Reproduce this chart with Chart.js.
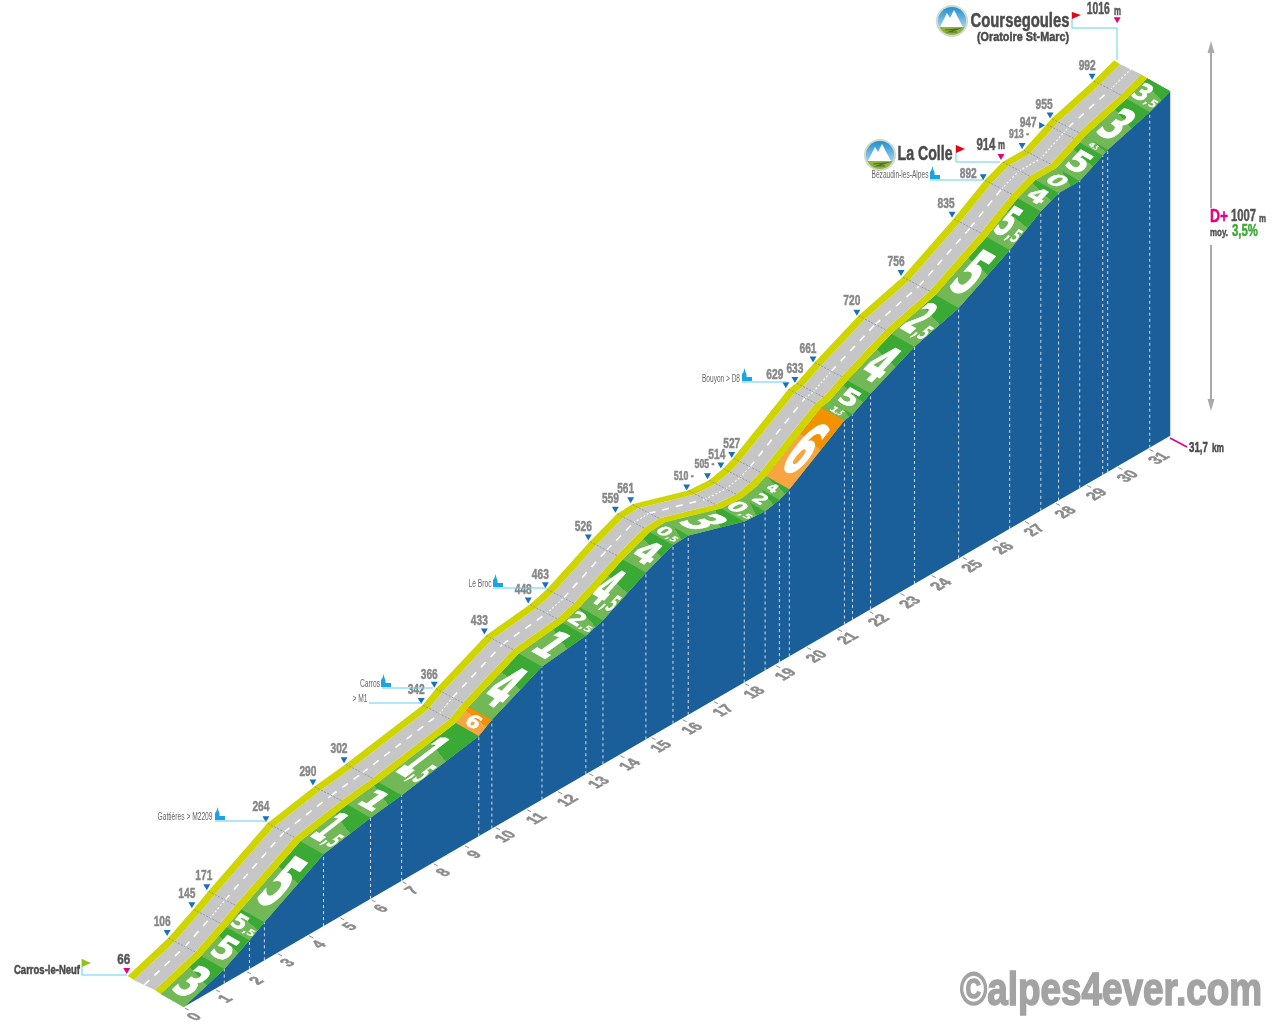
<!DOCTYPE html>
<html>
<head>
<meta charset="utf-8">
<title>Coursegoules</title>
<script src="https://cdn.jsdelivr.net/npm/chart.js@4/dist/chart.umd.js"></script>
<style>
html,body{margin:0;padding:0;background:#fff;}
canvas{display:block;}
</style>
</head>
<body>
<canvas id="profile" width="1280" height="1024"></canvas>
<script>
// values
const kmPoints = [0,1.3,2.11,2.59,4.49,6,7,9.48,9.9,11.51,12.92,13.47,14.85,15.72,16.21,18.01,18.68,19.14,19.46,21.23,21.49,22.07,23.48,24.9,26.54,27.54,28.11,28.79,29.53,29.69,31.04,31.7];
const altitudes = [66,106,145,171,264,290,302,342,366,433,448,463,526,559,561,510,505,514,527,629,633,661,720,756,835,892,914,913,947,955,992,1016];
const gradients = ["3","5","5,5","5","1,5","1","1,5","6","4","1","2,5","4,5","4","0,5","3","0,5","2","4","6","1,5","5","4","2,5","5","5,5","4","0","5","4,5","3","3,5"];
const kmTicks = [0,1,2,3,4,5,6,7,8,9,10,11,12,13,14,15,16,17,18,19,20,21,22,23,24,25,26,27,28,29,30,31];
const peakIndexes = [0,26,31];
const smallLabels = [15,16,27];

// projection of the oblique view
const pxKm = 31.07;
const pxM = 0.362;
const shear = 49.67;
const originX = 184.5;
const originY = 1006;
const baseAlt = 66;
// Chart.js insets the plot area by the size of the markers
const inset = 5;

// depth of the road, in pixels from the lower edge of the gradient band
const bandEdge = {dx:-23,dy:-13};
const yellowEdge = {dx:-29,dy:-17};
const grayEdge = {dx:-50,dy:-27};
const topEdge = {dx:-56,dy:-31};
const midRoad = {dx:-39.5,dy:-22};
const front = {dx:0,dy:0};

const labelDx = [-4,-6,-6.5,-4.5,-6.5,-6.5,-6.5,-6.5,-6.5,-6.5,-6.5,-6.5,-6.5,-6.5,-6.5,-4.5,-4.5,-6.5,-1.5,-13.5,-1.5,-6.5,-6.5,-6.5,-7.5,-16.5,-16.5,-4.5,-18.5,-7.5,-6.5,-16];
const labelDy = [-16,-16,-15,-15,-16,-15,-15,-15,-14,-15,-15,-14,-15,-15,-15,-14,-15,-14,-14,-14,-14,-14,-15,-15,-15,-6,-17,-15,-1,-14,-15,-51];
const markerDy = [-6,-6,-5,-5,-5,-5,-5,-5,-5,-5,-5,-5,-5,-5,-5,-4,-5,-4,-4,-5,-4,-4,-4,-5,-5,-4,-6,-5,1,-4,-5,-41];
const markerDx = [-1,-1,-1.5,-1.5,-1.5,-1.5,-1.5,-1.5,-1.5,-1.5,-1.5,-1.5,-1.5,-1.5,-1.5,-1.5,-1.5,-2.5,-1.5,-2.5,-1.5,-1.5,-1.5,-1.5,-1.5,-1.5,-1.5,-1.5,-5.5,-1.5,-1.5,3];

function xv(km,edge){ return km + edge.dx/pxKm; }
function yv(km,alt,edge){ return alt + shear*km - edge.dy/pxM; }
function pt(i,edge){ return {x:xv(kmPoints[i],edge),y:yv(kmPoints[i],altitudes[i],edge)}; }

function strip(edgeA,edgeB){
    const pts = [];
    for(let i=0;i<kmPoints.length;i++){ pts.push(pt(i,edgeA)); }
    for(let i=kmPoints.length-1;i>=0;i--){ pts.push(pt(i,edgeB)); }
    return pts;
}

function shape(points,color){
    return {data:points,showLine:true,fill:"shape",backgroundColor:color,borderColor:"transparent",borderWidth:0,pointRadius:0,tension:0};
}

function stroke(points,color,width,dash){
    return {data:points,showLine:true,fill:false,borderColor:color,borderWidth:width,borderDash:dash||[],pointRadius:0,tension:0};
}

function bandColor(i,light,dark){
    return function(ctx){
        const sx = ctx.chart.scales.x, sy = ctx.chart.scales.y;
        const a = pt(i,front), b = pt(i+1,front);
        const x0 = sx.getPixelForValue(a.x), y0 = sy.getPixelForValue(a.y);
        const x1 = sx.getPixelForValue(b.x), y1 = sy.getPixelForValue(b.y);
        // scales have no pixels yet on the first pass
        if(!isFinite(x0+y0+x1+y1)){ return dark; }
        const g = ctx.chart.ctx.createLinearGradient(x0,y0,x1,y1);
        g.addColorStop(0,light);
        g.addColorStop(0.57,light);
        g.addColorStop(0.57,dark);
        g.addColorStop(1,dark);
        return g;
    };
}

const layers = [];

// blue face
const face = [];
for(let i=0;i<kmPoints.length;i++){ face.push(pt(i,front)); }
face.push({x:kmPoints[kmPoints.length-1],y:baseAlt+shear*kmPoints[kmPoints.length-1]});
face.push({x:0,y:baseAlt});
layers.push(shape(face,"#1a5e9a"));

// dashed verticals
for(let i=1;i<kmPoints.length-1;i++){
    layers.push(stroke([{x:kmPoints[i],y:baseAlt+shear*kmPoints[i]},pt(i,front)],"#d5dde8",1,[3,3]));
}

// gradient bands
layers.push(shape(strip(front,bandEdge),"#3aaa35"));
for(let i=0;i<gradients.length;i++){
    const hot = gradients[i]==="6";
    const light = hot ? "#f7a541" : "#72b857";
    const dark = hot ? "#f39200" : "#3aaa35";
    layers.push(shape([pt(i,front),pt(i+1,front),pt(i+1,bandEdge),pt(i,bandEdge)],bandColor(i,light,dark)));
}

// road
layers.push(shape(strip(bandEdge,yellowEdge),"#d0d500"));
layers.push(shape(strip(yellowEdge,grayEdge),"#c6c6c6"));
layers.push(shape(strip(grayEdge,topEdge),"#d0d500"));

for(let i=0;i<gradients.length;i++){
    const short = kmPoints[i+1]-kmPoints[i] < 0.75;
    layers.push(stroke([pt(i,midRoad),pt(i+1,midRoad)],"#ffffff",short?1.2:1.6,short?[2,2]:[7,7]));
}
for(let i=1;i<kmPoints.length-1;i++){
    layers.push(stroke([pt(i,yellowEdge),pt(i,topEdge)],"#7f88ad",0.8,[2,1.5]));
}

// altitude markers
const markerData = [];
for(let i=0;i<kmPoints.length;i++){
    const p = pt(i,topEdge);
    markerData.push({x:p.x+markerDx[i]/pxKm,y:p.y-markerDy[i]/pxM});
}
layers.push({
    data:markerData,showLine:false,pointStyle:"triangle",pointRadius:4,borderWidth:0,
    rotation:altitudes.map((a,i)=> i===28 ? 90 : 180),
    backgroundColor:altitudes.map((a,i)=> peakIndexes.includes(i) ? "#e6007e" : "#1b70b8"),
    borderColor:"transparent"
});

const NARROW = '"Liberation Sans Narrow","Liberation Sans",sans-serif';

function label(c,text,cx,cy,size,color,width,weight,heavy){
    c.save();
    c.font = (weight||"bold")+" "+size+"px "+NARROW;
    c.fillStyle = color;
    c.textAlign = "center";
    c.textBaseline = "middle";
    c.translate(cx,cy);
    if(width){ c.scale(width/c.measureText(text).width,1); }
    c.fillText(text,0,0);
    if(!weight){
        c.strokeStyle = color;
        c.lineWidth = heavy||0.5;
        c.strokeText(text,0,0);
    }
    c.restore();
}

function line(c,color,width,pts){
    c.strokeStyle = color;
    c.lineWidth = width;
    c.beginPath();
    pts.forEach((p,i)=>{ if(i===0){c.moveTo(p[0],p[1]);}else{c.lineTo(p[0],p[1]);} });
    c.stroke();
}

function poly(c,color,pts){
    c.fillStyle = color;
    c.beginPath();
    pts.forEach((p,i)=>{ if(i===0){c.moveTo(p[0],p[1]);}else{c.lineTo(p[0],p[1]);} });
    c.closePath();
    c.fill();
}

function church(c,x,y){
    poly(c,"#1aa5e0",[[x,y],[x,y-7],[x+1.5,y-9],[x+2.5,y-13],[x+3.5,y-9],[x+4.5,y-7],[x+4.5,y-4],[x+10,y-4],[x+10,y]]);
}

function badge(c,x,y){
    c.save();
    c.beginPath(); c.arc(x,y,16,0,Math.PI*2); c.fillStyle="#d4d8c8"; c.fill();
    c.beginPath(); c.arc(x,y,14,0,Math.PI*2); c.clip();
    const sky = c.createLinearGradient(0,y-14,0,y+14);
    sky.addColorStop(0,"#1f8fd0"); sky.addColorStop(1,"#cfeaf6");
    c.fillStyle = sky;
    c.fillRect(x-15,y-15,30,30);
    poly(c,"#ffffff",[[x-13,y+8],[x-5,y-8],[x-2,y-3],[x+2,y-11],[x+12,y+8]]);
    poly(c,"#8fb53a",[[x-15,y+6],[x+15,y+6],[x+15,y+15],[x-15,y+15]]);
    line(c,"#4d6b2a",1.2,[[x-7,y+9],[x+6,y+8],[x-3,y+11],[x+5,y+11]]);
    c.restore();
}

function gradientText(c,text,i,sx,sy){
    const a = pt(i,front), b = pt(i+1,front);
    const ax = sx.getPixelForValue(a.x), ay = sy.getPixelForValue(a.y);
    const bx = sx.getPixelForValue(b.x), by = sy.getPixelForValue(b.y);
    const len = Math.hypot(bx-ax,by-ay);
    const vx = (bx-ax)/len, vy = (by-ay)/len;
    const ux = 0.87, uy = 0.49;
    const main = text.split(",")[0];
    const dec = text.includes(",") ? ","+text.split(",")[1] : "";
    const H = Math.min(len*0.66,58);
    const W = Math.min(H*1.05,dec?15:21);
    const cx = (ax+bx)/2 + bandEdge.dx/2, cy = (ay+by)/2 + bandEdge.dy/2;
    c.save();
    c.font = 'bold 100px "DejaVu Sans",sans-serif';
    c.fillStyle = "#ffffff";
    c.strokeStyle = "#ffffff";
    c.lineWidth = 2;
    c.textAlign = "left";
    c.textBaseline = "alphabetic";
    const mainW = c.measureText(main).width;
    const decW = dec ? W*0.8 : 0;
    const total = W + decW;
    const ox = cx - ux*total/2 - vx*H/2, oy = cy - uy*total/2 - vy*H/2;
    c.save();
    c.transform(ux*W/mainW,uy*W/mainW,-vx*H/73,-vy*H/73,ox,oy);
    c.fillText(main,0,0);
    c.strokeText(main,0,0);
    c.restore();
    if(dec){
        const w2 = c.measureText(dec).width;
        const h2 = Math.max(H*0.45,Math.min(H,7));
        c.transform(ux*decW/w2,uy*decW/w2,-vx*h2/73,-vy*h2/73,ox+ux*W,oy+uy*W);
        c.fillText(dec,0,0);
    }
    c.restore();
}

const annotations = {
    id:"annotations",
    afterDraw(chart){
        const c = chart.ctx, sx = chart.scales.x, sy = chart.scales.y;

        // km ticks along the foot of the face
        kmTicks.forEach(k=>{
            const px = sx.getPixelForValue(k), py = sy.getPixelForValue(baseAlt+shear*k);
            line(c,"#8c8c8c",1,[[px+1,py+1],[px+5,py+3]]);
            c.save();
            c.font = "bold 17px "+NARROW;
            c.fillStyle = "#8c8c8c";
            c.strokeStyle = "#8c8c8c";
            c.lineWidth = 0.6;
            c.textAlign = "center";
            c.textBaseline = "middle";
            c.transform(0.866*0.85,-0.5*0.85,0.88,0.47,px+11,py+10);
            c.fillText(String(k),0,0);
            c.strokeText(String(k),0,0);
            c.restore();
        });

        gradients.forEach((g,i)=> gradientText(c,g,i,sx,sy));

        // altitude labels
        altitudes.forEach((a,i)=>{
            const p = pt(i,topEdge);
            const px = sx.getPixelForValue(p.x)+labelDx[i], py = sy.getPixelForValue(p.y)+labelDy[i];
            if(peakIndexes.includes(i) && i>0){
                const w = i===31 ? 23 : 19;
                label(c,String(a),px,py,17,"#555555",w);
            }else if(i===0){
                label(c,String(a),px,py,15,"#555555",13);
            }else if(smallLabels.includes(i)){
                label(c,a+" -",px,py,12,"#878787",20);
            }else{
                label(c,String(a),px,py,15,"#878787",17);
            }
        });
        label(c,"m",1117.5,12,12,"#555555",7);
        label(c,"m",1001.5,146,12,"#555555",7);

        // leader lines
        const cyan = "#62cdf0";
        line(c,cyan,1,[[82,959],[82,975],[127,975]]);
        line(c,cyan,1,[[215,821],[267,821]]);
        line(c,cyan,1,[[382,688],[433,688]]);
        line(c,cyan,1,[[369,703],[422,703]]);
        line(c,cyan,1,[[493,588],[547,588]]);
        line(c,cyan,1,[[742,382],[787,382]]);
        line(c,cyan,1,[[930,180],[983,180]]);
        line(c,cyan,1,[[956,145],[956,162],[1000,162]]);
        line(c,cyan,1,[[1072,12],[1072,28],[1117,28],[1117,60]]);

        // flags
        poly(c,"#95c11f",[[82,959],[91,963],[82,967]]);
        poly(c,"#e30613",[[956,145],[965,149],[956,153]]);
        poly(c,"#e30613",[[1072,12],[1081,15],[1072,19]]);

        [[215,820],[381,687],[493,587],[742,381],[930,179]].forEach(p=> church(c,p[0],p[1]));
        badge(c,880,155);
        badge(c,952,21);

        // place names
        label(c,"Carros-le-Neuf",47,970,13,"#4a4a4a",66);
        label(c,"Coursegoules",1020,21,20,"#4a4a4a",99);
        label(c,"(Oratoire St-Marc)",1023,37,13,"#4a4a4a",92);
        label(c,"La Colle",925,154,20,"#4a4a4a",55);
        label(c,"Gattières > M2209",185,817,10,"#666666",55,"normal");
        label(c,"Carros",370,684,10,"#666666",20,"normal");
        label(c,"> M1",360,699,10,"#666666",15,"normal");
        label(c,"Le Broc",480,584,10,"#666666",23,"normal");
        label(c,"Bouyon > D8",721,379,10,"#666666",38,"normal");
        label(c,"Bézaudin-les-Alpes",900,175,10,"#666666",57,"normal");

        // climb summary on the right
        line(c,"#aaaaaa",2,[[1211,48],[1211,208]]);
        line(c,"#aaaaaa",2,[[1211,245],[1211,404]]);
        poly(c,"#aaaaaa",[[1211,41],[1214.5,53],[1207.5,53]]);
        poly(c,"#aaaaaa",[[1211,411],[1214.5,399],[1207.5,399]]);
        label(c,"D+",1219,217,19,"#e6007e",18);
        label(c,"1007",1243.5,217,16,"#555555",25);
        label(c,"m",1262.5,219,11,"#555555",7);
        label(c,"moy.",1219,233,11,"#555555",18);
        label(c,"3,5%",1245,232,16,"#3aaa35",26);

        line(c,"#e6007e",1.5,[[1170,438],[1187,447]]);
        label(c,"31,7",1198.5,448,15,"#4a4a4a",19);
        label(c,"km",1218,449,12,"#4a4a4a",12);

        label(c,"©alpes4ever.com",1111,992,46,"#a3a3a3",302,null,1.6);
    }
};

new Chart(document.getElementById("profile"),{
    type:"scatter",
    data:{datasets:layers.slice().reverse()},
    options:{
        responsive:false,
        animation:false,
        devicePixelRatio:1,
        events:[],
        plugins:{legend:{display:false},tooltip:{enabled:false},title:{display:false}},
        scales:{
            x:{type:"linear",display:false,min:(inset-originX)/pxKm,max:(1280-inset-originX)/pxKm},
            y:{type:"linear",display:false,min:baseAlt+(originY-1024+inset)/pxM,max:baseAlt+(originY-inset)/pxM}
        }
    },
    plugins:[annotations]
});
</script>
</body>
</html>
